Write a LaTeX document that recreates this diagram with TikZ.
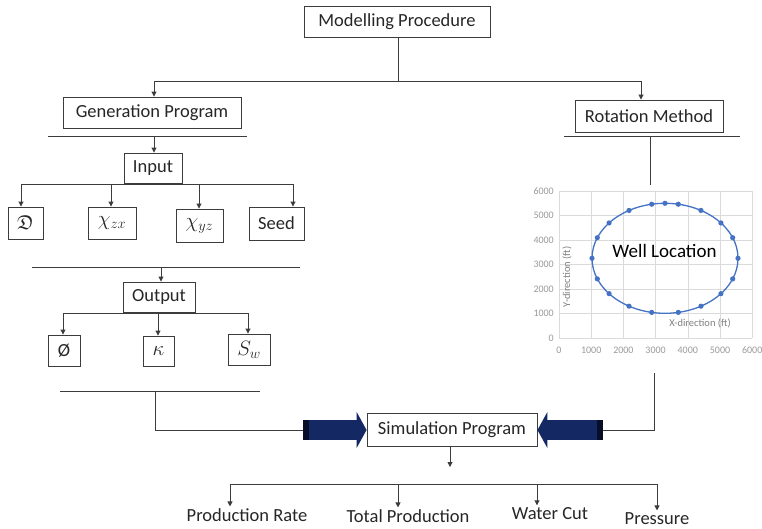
\documentclass[tikz,border=0pt]{standalone}
\usepackage{amsmath,amssymb}
\usepackage{fontspec}
\setmainfont{Carlito}
\usetikzlibrary{arrows.meta}
\definecolor{navy}{RGB}{20,40,100}
\definecolor{navyend}{RGB}{8,14,40}
\definecolor{lnc}{RGB}{60,60,60}
\definecolor{xlblue}{RGB}{68,114,196}
\definecolor{gridc}{RGB}{218,218,218}
\begin{document}
\begin{tikzpicture}[x=1pt,y=-1pt,
  font=\fontsize{18.5}{22}\selectfont,
  box/.style={draw=lnc, line width=0.9pt, inner sep=0pt, text=black!85},
  mbox/.style={box, font=\fontsize{20}{24}\selectfont},
  lbl/.style={inner sep=1.5pt, anchor=base, text=black!85},
  conn/.style={draw=lnc, line width=0.9pt},
  arr/.style={draw=lnc, line width=0.9pt, -{Triangle[length=5pt,width=5pt]}},
  bigarr/.style={draw=navy, line width=20pt, -{Triangle[length=10pt,width=36pt]}},
  gridline/.style={draw=gridc, line width=0.6pt},
  tick/.style={font=\fontsize{10}{11}\selectfont, text=black!40, inner sep=1pt},
  axt/.style={font=\fontsize{10.5}{12}\selectfont, text=black!50, inner sep=0pt}]
\useasboundingbox (0,0) rectangle (762,528);

% ---------- nodes ----------
\node[box, minimum width=186pt, minimum height=31pt] (mp) at (397,21.5) {Modelling Procedure};
\node[box, minimum width=178pt, minimum height=31pt] (gp) at (152,112.5) {Generation Program};
\node[box, minimum width=148pt, minimum height=32pt] (rm) at (649,116) {Rotation Method};
\node[box, minimum width=58pt, minimum height=30pt] (inp) at (153,168) {Input};
\node[mbox, minimum width=35pt, minimum height=32pt] (dd) at (25.5,223) {$\mathfrak{D}$};
\node[mbox, minimum width=48pt, minimum height=32pt] (czx) at (112,223) {$\chi_{zx}$};
\node[mbox, minimum width=47pt, minimum height=33pt] (cyz) at (199.5,225.5) {$\chi_{yz}$};
\node[box, minimum width=55pt, minimum height=33pt] (seed) at (276.5,223.5) {Seed};
\node[box, minimum width=72pt, minimum height=30pt] (out) at (159,297) {Output};
\node[box, minimum width=32pt, minimum height=31pt] (phi) at (64,350.5) {Ø};
\node[mbox, minimum width=31pt, minimum height=30pt] (kap) at (158.5,351) {$\kappa$};
\node[mbox, minimum width=42pt, minimum height=31pt] (sw) at (249,349.5) {$S_w$};
\node[box, minimum width=170pt, minimum height=33pt] (sim) at (452,429.5) {Simulation Program};
\node[lbl] (pr) at (247,521) {Production Rate};
\node[lbl] (tp) at (408,522) {Total Production};
\node[lbl] (wc) at (550,519) {Water Cut};
\node[lbl] (pres) at (657,524) {Pressure};

% ---------- top level ----------
\coordinate (t0) at (398,81);
\coordinate (t1) at (154,81);
\coordinate (t2) at (641,81);
\draw[conn] (mp.south -| t0) -- (t0);
\draw[conn] (t1) -- (t2);
\draw[arr] (t1) -- (t1 |- gp.north);
\draw[arr] (t2) -- (t2 |- rm.north);

% ---------- generation program ----------
\coordinate (g0) at (48,136);
\coordinate (g1) at (247,136);
\coordinate (g2) at (154,136);
\draw[conn] (g0) -- (g1);
\draw[arr] (g2) -- (g2 |- inp.north);

\coordinate (i1) at (21,184);
\coordinate (i2) at (111,184);
\coordinate (i3) at (199,184);
\coordinate (i4) at (293,184);
\draw[conn] (i1) -- (i4);
\draw[arr] (i1) -- (i1 |- dd.north);
\draw[arr] (i2) -- (i2 |- czx.north);
\draw[arr] (i3) -- (i3 |- cyz.north);
\draw[arr] (i4) -- (i4 |- seed.north);

\coordinate (m0) at (32,267);
\coordinate (m1) at (300,267);
\coordinate (m2) at (161,267);
\draw[conn] (m0) -- (m1);
\draw[arr] (m2) -- (m2 |- out.north);

\coordinate (o1) at (63,313);
\coordinate (o2) at (158,313);
\coordinate (o3) at (248,313);
\draw[conn] (o1) -- (o3);
\draw[arr] (o1) -- (o1 |- phi.north);
\draw[arr] (o2) -- (o2 |- kap.north);
\draw[arr] (o3) -- (o3 |- sw.north);

\coordinate (q0) at (60,391);
\coordinate (q1) at (260,391);
\coordinate (q2) at (155,391);
\coordinate (la) at (303,430);
\coordinate (lb) at (309,430);
\draw[conn] (q0) -- (q1);
\draw[conn] (q2) |- (la);
\draw[bigarr] (lb) -- (lb -| sim.west);
\fill[navyend] (303,420) rectangle (309,440);

% ---------- rotation method ----------
\coordinate (r0) at (564,136);
\coordinate (r1) at (740,136);
\coordinate (r2) at (650,136);
\coordinate (r3) at (650,185);
\draw[conn] (r0) -- (r1);
\draw[conn] (r2) -- (r3);

% chart
\foreach \k in {0,...,6} {
  \draw[gridline] ({559+32.2*\k},191) -- ({559+32.2*\k},338);
  \draw[gridline] (559,{338-24.5*\k}) -- (752.2,{338-24.5*\k});
}
\foreach \k/\v in {0/0,1/1000,2/2000,3/3000,4/4000,5/5000,6/6000} {
  \node[tick, anchor=east] at (555,{338-24.5*\k}) {\v};
  \node[tick] at ({559+32.2*\k},350) {\v};
}
\node[axt, rotate=90] at (567,277) {Y-direction (ft)};
\node[axt] at (700,323) {X-direction (ft)};
\draw[xlblue, line width=1.3pt] (665,258.3) ellipse [x radius=73pt, y radius=55pt];
\foreach \a in {100.5,90,79.5,60.5,40,22,0,-22,-40,-60.5,-79.5,-100.5,-119.5,-140,-158,180,158,140,119.5}
  \fill[xlblue] ({665+73*cos(\a)},{258.3-55*sin(\a)}) circle[radius=2.6pt];
\node[lbl, font=\fontsize{19}{22}\selectfont, text=black] (wl) at (664.5,257) {Well Location};

\coordinate (c0) at (654,373);
\coordinate (ra) at (603,430);
\coordinate (rb) at (597,430);
\draw[conn] (c0) |- (ra);
\draw[bigarr] (rb) -- (rb -| sim.east);
\fill[navyend] (597,420) rectangle (603,440);

% ---------- simulation outputs ----------
\coordinate (s1) at (450,467);
\draw[arr] (sim.south -| s1) -- (s1);
\coordinate (b1) at (230,484);
\coordinate (b2) at (398,484);
\coordinate (b3) at (537,484);
\coordinate (b4) at (657,484);
\draw[conn] (b1) -- (b4);
\draw[arr] (b1) -- (b1 |- pr.north);
\draw[arr] (b2) -- (b2 |- tp.north);
\draw[arr] (b3) -- (b3 |- wc.north);
\draw[arr] (b4) -- (b4 |- pres.north);
\end{tikzpicture}
\end{document}
